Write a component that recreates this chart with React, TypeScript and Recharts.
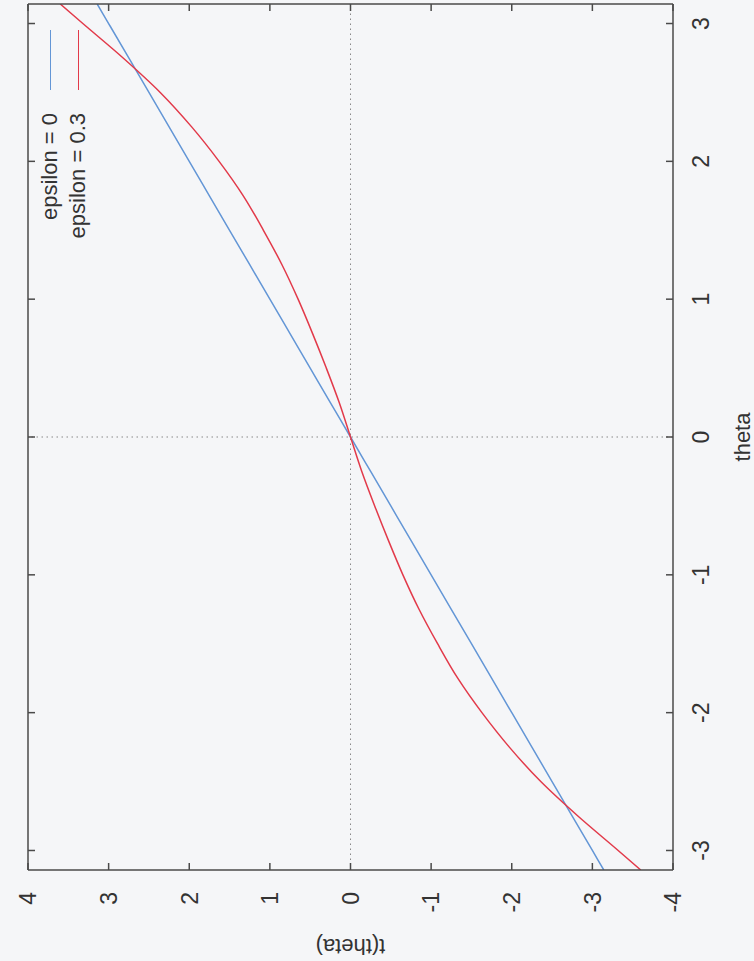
import React from "react";
import { LineChart, Line, XAxis, YAxis, ReferenceLine, Legend } from "recharts";

// theta samples and t(theta)
const thetaValues = [-3.1416, -3, -2.75, -2.5, -2.25, -2, -1.75, -1.5, -1.25, -1, -0.75, -0.5, -0.25, 0, 0.25, 0.5, 0.75, 1, 1.25, 1.5, 1.75, 2, 2.25, 2.5, 2.75, 3, 3.1416];
const epsilon0 = [-3.1416, -3, -2.75, -2.5, -2.25, -2, -1.75, -1.5, -1.25, -1, -0.75, -0.5, -0.25, 0, 0.25, 0.5, 0.75, 1, 1.25, 1.5, 1.75, 2, 2.25, 2.5, 2.75, 3, 3.1416];
const epsilon03 = [-3.6, -3.32, -2.82, -2.36, -1.97, -1.63, -1.33, -1.08, -0.85, -0.65, -0.47, -0.3, -0.14, 0, 0.14, 0.3, 0.47, 0.65, 0.85, 1.08, 1.33, 1.63, 1.97, 2.36, 2.82, 3.32, 3.6];

const thetaTicks = [-3, -2, -1, 0, 1, 2, 3];
const tTicks = [-4, -3, -2, -1, 0, 1, 2, 3, 4];

const seriesNames = ["epsilon = 0", "epsilon = 0.3"];
const seriesColors = ["#6396d6", "#e23a4a"];

const data = thetaValues.map((theta, i) => ({
  theta,
  eps0: epsilon0[i],
  eps03: epsilon03[i],
}));

const FONT = "'Liberation Sans', Arial, sans-serif";
const INK = "#333";
const FRAME = "#4a4a4a";
const TICK_LEN = 7;
const TICK_FONT = 23;

// gnuplot style: tick marks point into the plot, labels sit outside
const BottomTick = ({ x, y, payload }: any) => (
  <g>
    <line x1={x} y1={y} x2={x} y2={y - TICK_LEN} stroke={FRAME} strokeWidth={1.5} />
    <text x={x} y={y + 20} dy="0.71em" textAnchor="middle" fontSize={TICK_FONT} fill={INK} fontFamily={FONT}>
      {payload.value}
    </text>
  </g>
);

const LeftTick = ({ x, y, payload }: any) => (
  <g>
    <line x1={x} y1={y} x2={x + TICK_LEN} y2={y} stroke={FRAME} strokeWidth={1.5} />
    <text x={x - 22} y={y} dy="0.36em" textAnchor="end" fontSize={TICK_FONT} fill={INK} fontFamily={FONT}>
      {payload.value}
    </text>
  </g>
);

const TopTick = ({ x, y }: any) => (
  <line x1={x} y1={y} x2={x} y2={y + TICK_LEN} stroke={FRAME} strokeWidth={1.5} />
);

const RightTick = ({ x, y }: any) => (
  <line x1={x} y1={y} x2={x - TICK_LEN} y2={y} stroke={FRAME} strokeWidth={1.5} />
);

const LegendBox = () => (
  <div style={{ fontFamily: FONT, fontSize: 22, color: INK }}>
    {seriesNames.map((name, i) => (
      <div key={name} style={{ height: 28, display: "flex", alignItems: "center", justifyContent: "flex-end" }}>
        <span>{name}</span>
        <span style={{ display: "inline-block", width: 60, height: 0, borderTop: `1.5px solid ${seriesColors[i]}`, marginLeft: 23 }} />
      </div>
    ))}
  </div>
);

const XLabel = ({ viewBox }: any) => (
  <text x={viewBox.x + viewBox.width / 2} y={viewBox.y + 69} textAnchor="middle" dominantBaseline="central" fontSize={22} fill={INK} fontFamily={FONT}>
    theta
  </text>
);

const YLabel = ({ viewBox }: any) => {
  const cx = viewBox.x + 15;
  const cy = viewBox.y + viewBox.height / 2;
  return (
    <text x={cx} y={cy} transform={`rotate(-90 ${cx} ${cy})`} textAnchor="middle" dominantBaseline="central" fontSize={22} fill={INK} fontFamily={FONT}>
      t(theta)
    </text>
  );
};

export default function App() {
  return (
    <div style={{ position: "fixed", left: 0, top: 0, width: 754, height: 961, overflow: "hidden", background: "#f5f6f8" }}>
      {/* gnuplot page scanned in landscape: draw it upright, then turn it a quarter left */}
      <div style={{ position: "absolute", left: 0, top: 0, width: 961, height: 754, transformOrigin: "0 0", transform: "translateY(961px) rotate(-90deg)" }}>
        <LineChart width={961} height={754} data={data} margin={{ top: 27, right: 3, bottom: 0, left: 0 }}>
          <XAxis
            dataKey="theta"
            type="number"
            domain={[-Math.PI, Math.PI]}
            ticks={thetaTicks}
            allowDataOverflow
            height={81}
            tickLine={false}
            tickSize={0}
            tickMargin={0}
            tick={<BottomTick />}
            stroke={FRAME}
            strokeWidth={1.5}
            label={<XLabel />}
          />
          <XAxis
            xAxisId="top"
            orientation="top"
            dataKey="theta"
            type="number"
            domain={[-Math.PI, Math.PI]}
            ticks={thetaTicks}
            allowDataOverflow
            height={1}
            tickLine={false}
            tickSize={0}
            tickMargin={0}
            tick={<TopTick />}
            stroke={FRAME}
            strokeWidth={1.5}
          />
          <YAxis
            type="number"
            domain={[-4, 4]}
            ticks={tTicks}
            allowDataOverflow
            width={91}
            tickLine={false}
            tickSize={0}
            tickMargin={0}
            tick={<LeftTick />}
            stroke={FRAME}
            strokeWidth={1.5}
            label={<YLabel />}
          />
          <YAxis
            yAxisId="right"
            orientation="right"
            type="number"
            domain={[-4, 4]}
            ticks={tTicks}
            allowDataOverflow
            width={1}
            tickLine={false}
            tickSize={0}
            tickMargin={0}
            tick={<RightTick />}
            stroke={FRAME}
            strokeWidth={1.5}
          />
          <ReferenceLine x={0} stroke="#888" strokeDasharray="1.5 3.5" />
          <ReferenceLine y={0} stroke="#888" strokeDasharray="1.5 3.5" />
          <Legend
            layout="horizontal"
            verticalAlign="middle"
            align="center"
            content={<LegendBox />}
            wrapperStyle={{ left: 671, top: 36, width: 260 }}
          />
          <Line type="monotone" dataKey="eps0" name={seriesNames[0]} stroke={seriesColors[0]} strokeWidth={1.5} dot={false} isAnimationActive={false} />
          <Line type="monotone" dataKey="eps03" name={seriesNames[1]} stroke={seriesColors[1]} strokeWidth={1.5} dot={false} isAnimationActive={false} />
        </LineChart>
      </div>
    </div>
  );
}
